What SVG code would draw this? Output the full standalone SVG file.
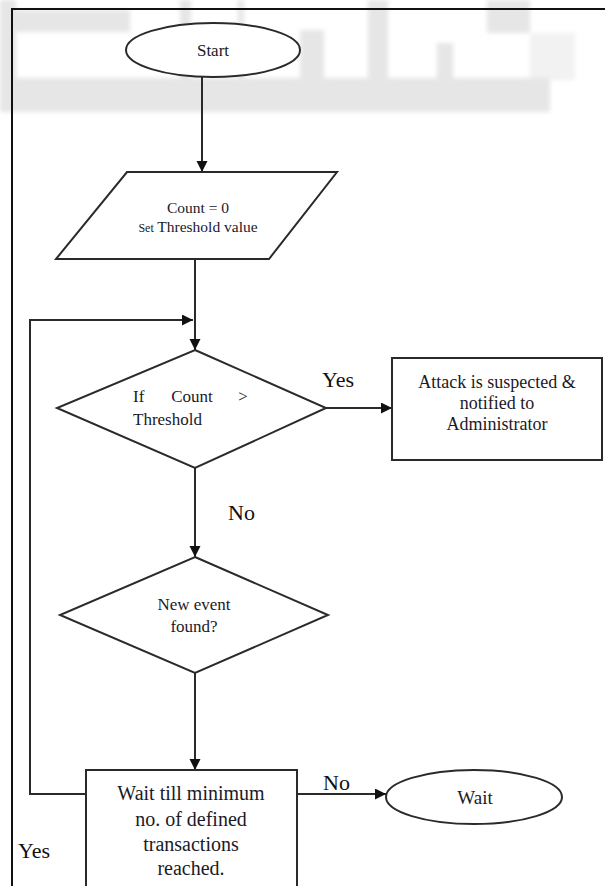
<svg xmlns="http://www.w3.org/2000/svg" width="605" height="886" viewBox="0 0 605 886">
<style>
.shape{fill:#fff;stroke:#2a2a2a;stroke-width:2}
.conn{fill:none;stroke:#2a2a2a;stroke-width:2}
.t{font-family:"Liberation Serif","DejaVu Serif",serif;fill:#1a1a28;text-anchor:middle}
.ts{font-family:"Liberation Serif","DejaVu Serif",serif;fill:#1a1a28;text-anchor:start}
.lbl{font-family:"Liberation Serif","DejaVu Serif",serif;fill:#111;font-size:22px}
.wm{fill:#e6e6e6}
</style>
<defs>
<marker id="arr" markerUnits="userSpaceOnUse" markerWidth="12" markerHeight="12" refX="11" refY="5.5" orient="auto">
<path d="M0,0 L11,5.5 L0,11 z" fill="#111"/>
</marker>
<filter id="blur" x="-5%" y="-5%" width="110%" height="110%"><feGaussianBlur stdDeviation="2"/></filter>
</defs>
<rect width="605" height="886" fill="#fff"/>
<g id="watermark" filter="url(#blur)">
<rect class="wm" x="0" y="10" width="130" height="22"/>
<rect class="wm" x="0" y="0" width="16" height="80"/>
<rect class="wm" x="0" y="78" width="550" height="34"/>
<rect class="wm" x="180" y="0" width="11" height="80"/>
<rect class="wm" x="238" y="0" width="6" height="80"/>
<rect class="wm" x="300" y="30" width="24" height="50"/>
<rect class="wm" x="368" y="0" width="20" height="80"/>
<rect class="wm" x="437" y="43" width="16" height="37"/>
<rect class="wm" x="487" y="0" width="43" height="33"/>
<rect class="wm" x="530" y="33" width="45" height="47" opacity="0.5"/>
</g>
<g id="frame">
<line x1="12" y1="9" x2="605" y2="9" stroke="#111" stroke-width="2"/>
<line x1="12" y1="8" x2="12" y2="886" stroke="#111" stroke-width="2"/>
</g>
<g id="connectors">
<line class="conn" x1="202" y1="77" x2="202" y2="172" marker-end="url(#arr)"/>
<line class="conn" x1="195" y1="259" x2="195" y2="350" marker-end="url(#arr)"/>
<polyline class="conn" points="86,794 30,794 30,320 193,320" marker-end="url(#arr)"/>
<line class="conn" x1="326" y1="408" x2="392" y2="408" marker-end="url(#arr)"/>
<line class="conn" x1="195" y1="468" x2="195" y2="557" marker-end="url(#arr)"/>
<line class="conn" x1="195" y1="673" x2="195" y2="770" marker-end="url(#arr)"/>
<line class="conn" x1="297" y1="794" x2="386" y2="794" marker-end="url(#arr)"/>
</g>
<g id="start">
<ellipse class="shape" cx="213" cy="50" rx="87" ry="27"/>
<text class="t" x="213" y="56" font-size="17">Start</text>
</g>
<g id="init">
<polygon class="shape" points="127,172 337,172 269,259 56,259"/>
<text class="t" x="198" y="213" font-size="15.5">Count = 0</text>
<text class="t" x="198" y="232" font-size="15.5"><tspan font-size="12">Set</tspan> Threshold value</text>
</g>
<g id="check-threshold">
<polygon class="shape" points="195,350 326,408 195,468 57,408"/>
<text class="ts" x="133" y="402" font-size="17">If</text>
<text class="t" x="192" y="402" font-size="17">Count</text>
<text class="t" x="243" y="402" font-size="17">&gt;</text>
<text class="ts" x="133" y="425" font-size="17">Threshold</text>
</g>
<g id="attack">
<rect class="shape" x="392" y="358" width="210" height="102"/>
<text class="t" x="497" y="388" font-size="18">Attack is suspected &amp;</text>
<text class="t" x="497" y="409" font-size="18">notified to</text>
<text class="t" x="497" y="430" font-size="18">Administrator</text>
</g>
<g id="new-event">
<polygon class="shape" points="195,557 328,615 195,673 60,615"/>
<text class="t" x="194" y="610" font-size="17">New event</text>
<text class="t" x="194" y="632" font-size="17">found?</text>
</g>
<g id="wait-min">
<rect class="shape" x="86" y="770" width="211" height="120"/>
<text class="t" x="191" y="800" font-size="20">Wait till minimum</text>
<text class="t" x="191" y="826" font-size="20">no. of defined</text>
<text class="t" x="191" y="851" font-size="20">transactions</text>
<text class="t" x="191" y="875" font-size="20">reached.</text>
</g>
<g id="wait">
<ellipse class="shape" cx="474" cy="797" rx="88" ry="27"/>
<text class="t" x="475" y="804" font-size="19">Wait</text>
</g>
<g id="labels">
<text class="lbl" x="322" y="387">Yes</text>
<text class="lbl" x="228" y="520" font-size="23">No</text>
<text class="lbl" x="323" y="790" font-size="23">No</text>
<text class="lbl" x="18" y="858">Yes</text>
</g>
</svg>
